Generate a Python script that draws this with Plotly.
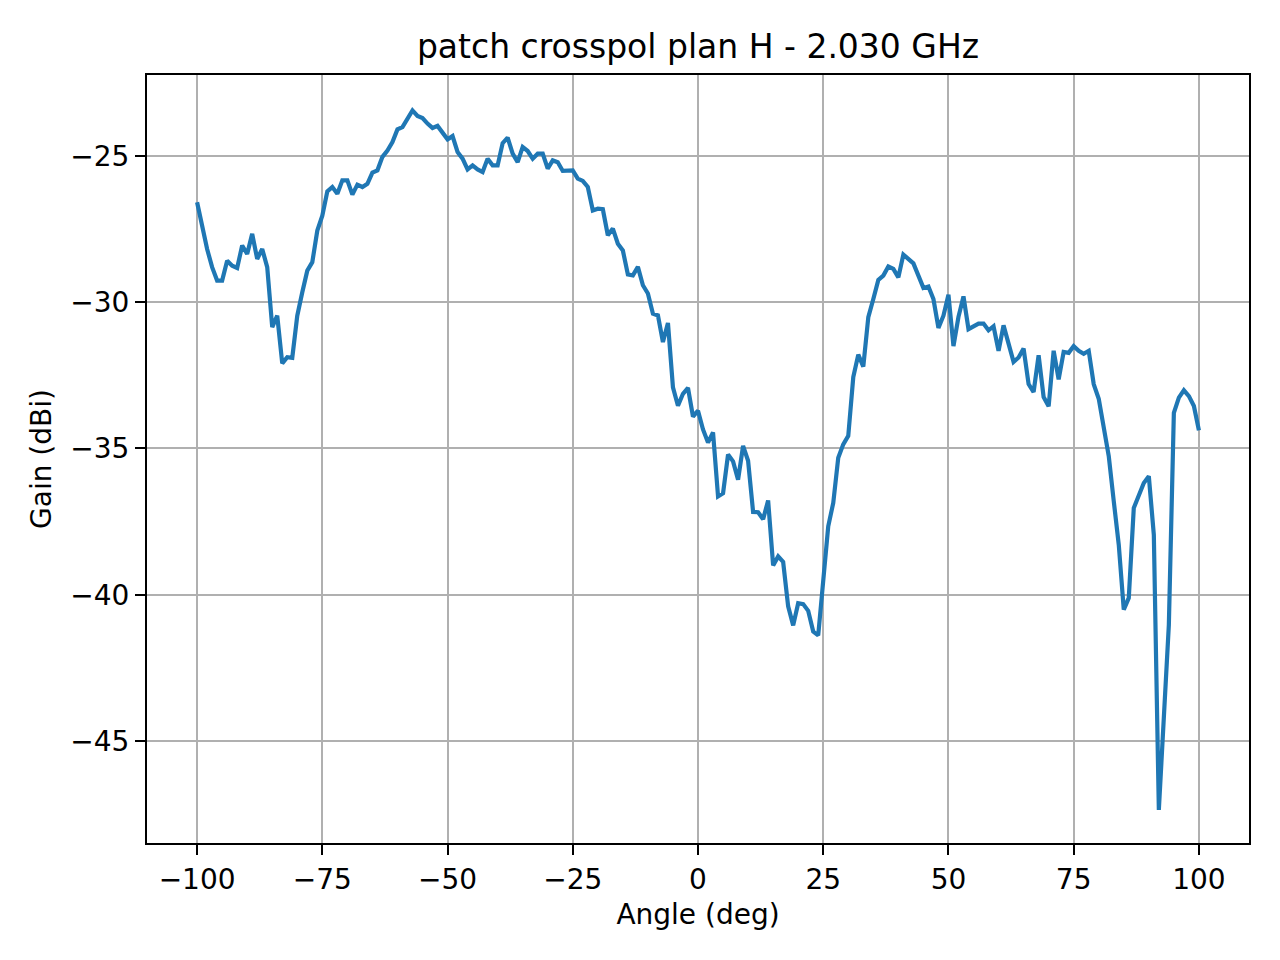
import plotly.graph_objects as go

# 数据：角度 (deg) 与增益 (dBi)
angles = list(range(-100, 101))
gains = [
    -26.58, -27.44, -28.18, -28.80, -29.26, -29.26, -28.58, -28.75, -28.83, -28.06,
    -28.35, -27.66, -28.52, -28.18, -28.80, -30.85, -30.46, -32.09, -31.88, -31.90,
    -30.46, -29.66, -28.92, -28.63, -27.55, -27.04, -26.21, -26.06, -26.29, -25.83,
    -25.83, -26.32, -25.98, -26.06, -25.95, -25.57, -25.49, -25.03, -24.81, -24.52,
    -24.09, -24.01, -23.75, -23.44, -23.63, -23.70, -23.89, -24.04, -23.97, -24.18,
    -24.43, -24.32, -24.86, -25.09, -25.46, -25.32, -25.46, -25.55, -25.09, -25.32,
    -25.32, -24.56, -24.37, -24.92, -25.21, -24.69, -24.83, -25.09, -24.92, -24.92,
    -25.43, -25.15, -25.21, -25.51, -25.51, -25.49, -25.77, -25.85, -26.06, -26.86,
    -26.80, -26.82, -27.71, -27.48, -28.00, -28.23, -29.05, -29.08, -28.79, -29.42,
    -29.70, -30.39, -30.45, -31.36, -30.71, -32.91, -33.54, -33.13, -32.93, -33.91,
    -33.71, -34.35, -34.80, -34.45, -36.64, -36.53, -35.21, -35.44, -36.07, -34.91,
    -35.42, -37.17, -37.18, -37.42, -36.78, -39.00, -38.69, -38.88, -40.40, -41.05,
    -40.29, -40.32, -40.55, -41.26, -41.39, -39.40, -37.66, -36.86, -35.32, -34.86,
    -34.57, -32.56, -31.79, -32.20, -30.51, -29.89, -29.24, -29.09, -28.78, -28.86,
    -29.15, -28.37, -28.52, -28.67, -29.09, -29.51, -29.46, -29.89, -30.88, -30.46,
    -29.74, -31.50, -30.50, -29.80, -30.92, -30.84, -30.73, -30.73, -30.96, -30.82,
    -31.66, -30.79, -31.44, -32.04, -31.89, -31.58, -32.80, -33.07, -31.81, -33.24,
    -33.56, -31.66, -32.64, -31.70, -31.73, -31.50, -31.66, -31.76, -31.66, -32.80,
    -33.30, -34.35, -35.26, -36.80, -38.29, -40.51, -40.11, -37.03, -36.58, -36.18,
    -35.95, -37.95, -47.36, -44.11, -41.03, -33.78, -33.26, -33.01, -33.21, -33.55,
    -34.38,
]

fig = go.Figure()
fig.add_trace(go.Scatter(
    x=angles,
    y=gains,
    mode="lines",
    line=dict(color="#1f77b4", width=4.2),
    showlegend=False,
))

axis_style = dict(
    showgrid=True,
    gridcolor="#b0b0b0",
    gridwidth=2.2,
    zeroline=False,
    showline=True,
    linecolor="black",
    linewidth=2.2,
    mirror=True,
    ticks="outside",
    ticklen=10,
    tickwidth=2.2,
    tickcolor="black",
    tickfont=dict(family="DejaVu Sans", size=28, color="black"),
)

fig.update_xaxes(
    range=[-110, 110],
    tickmode="linear", tick0=0, dtick=25,
    title=dict(text="Angle (deg)", font=dict(family="DejaVu Sans", size=28, color="black"), standoff=10),
    **axis_style,
)
fig.update_yaxes(
    range=[-48.49, -22.23],
    tickmode="linear", tick0=0, dtick=5,
    title=dict(text="Gain (dBi)", font=dict(family="DejaVu Sans", size=28, color="black"), standoff=10),
    **axis_style,
)

# 页面自带 8px 边距，所以尺寸和边距相应减小
fig.update_layout(
    width=1272,
    height=952,
    title=dict(
        text="patch crosspol plan H - 2.030 GHz",
        font=dict(family="DejaVu Sans", size=33, color="black"),
        x=(139 + (1272 - 31 - 139) / 2) / 1272, xanchor="center",
        y=1 - 38 / 952, yanchor="middle", yref="container",
    ),
    plot_bgcolor="white",
    paper_bgcolor="white",
    margin=dict(l=139, r=31, t=67, b=117),
)

fig.write_html("out.html")
